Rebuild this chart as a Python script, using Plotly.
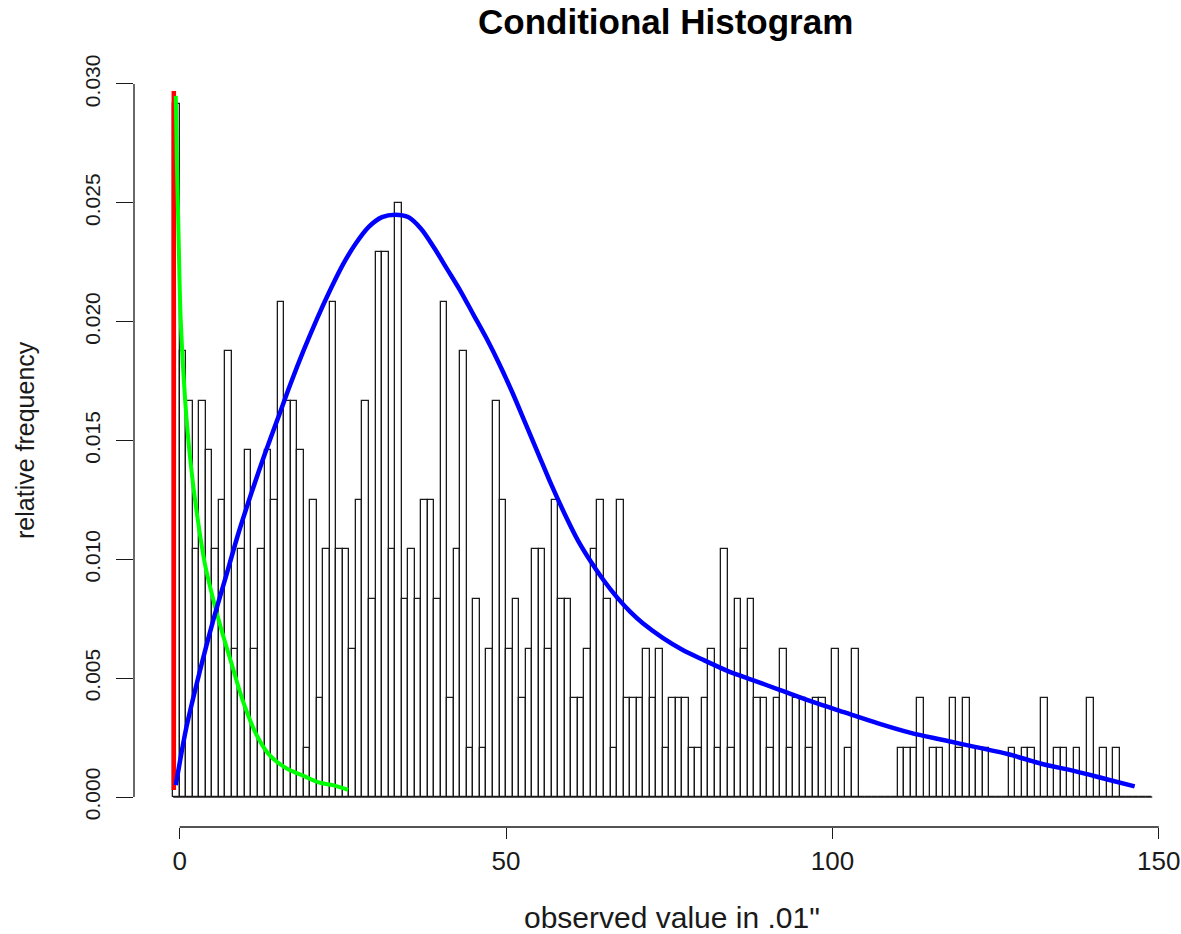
import plotly.graph_objects as go

# ---- data ----
# histogram bins: left edges -1 .. 148 (width 1), counts per bin
bin_left = list(range(-1, 149))
counts = [14, 9, 8, 5, 8, 7, 5, 6, 9, 3,
          5, 7, 3, 5, 7, 6, 10, 8, 8, 7,
          1, 6, 2, 5, 10, 5, 5, 3, 6, 8,
          4, 11, 11, 5, 12, 4, 5, 4, 6, 6,
          4, 10, 2, 5, 9, 1, 4, 1, 3, 8,
          6, 3, 4, 2, 3, 5, 5, 3, 6, 4,
          4, 2, 2, 3, 5, 6, 4, 1, 6, 2,
          2, 2, 3, 2, 3, 1, 2, 2, 2, 1,
          1, 2, 3, 1, 5, 1, 4, 3, 4, 2,
          2, 1, 2, 3, 1, 2, 2, 1, 2, 2,
          0, 3, 0, 1, 3, 0, 0, 0, 0, 0,
          0, 1, 1, 1, 2, 0, 1, 1, 0, 2,
          1, 2, 1, 1, 1, 0, 0, 0, 1, 0,
          1, 1, 0, 2, 0, 1, 1, 0, 1, 0,
          2, 0, 1, 0, 1, 0, 0, 0, 0, 0]
n_total = sum(counts)
rel_freq = [c / n_total for c in counts]

# fitted curves
blue_x = [-0.6, 1, 3, 5, 7, 9, 11, 13, 15, 17, 19, 21, 23, 25, 27, 29, 31, 33,
          35, 37, 39, 41, 43, 45, 47, 49, 51, 53, 55, 57, 59, 61, 63, 65, 67, 69,
          71, 74, 77, 80, 84, 88, 92, 97, 102, 107, 112, 117, 122, 127, 132, 137,
          142, 146.3]
blue_y = [0.0005, 0.0029, 0.0052, 0.0073, 0.0092, 0.0111, 0.0128, 0.0144, 0.0159,
          0.0174, 0.0188, 0.0201, 0.0213, 0.0224, 0.0233, 0.0240, 0.0244, 0.0245,
          0.0244, 0.0239, 0.0231, 0.0222, 0.0213, 0.0203, 0.0193, 0.0182, 0.0170,
          0.0157, 0.0144, 0.0131, 0.0119, 0.0108, 0.0099, 0.0091, 0.0084, 0.0078,
          0.0073, 0.0067, 0.0062, 0.0058, 0.0053, 0.0049, 0.0045, 0.0040, 0.00355,
          0.0031, 0.0027, 0.0024, 0.0021, 0.0018, 0.0014, 0.0011, 0.00075, 0.00045]

green_x = [-0.6, -0.45, -0.21, 0.15, 0.81, 1.58, 2.6, 3.87, 5.15, 6.43, 7.96,
           9.74, 11.8, 13.8, 16.4, 18.9, 21.5, 23.5, 25.8]
green_y = [0.0295, 0.0270, 0.0241, 0.0201, 0.0168, 0.0143, 0.0120, 0.0098, 0.0083,
           0.0070, 0.0056, 0.0040, 0.0026, 0.00175, 0.0012, 0.0009, 0.0006, 0.0005,
           0.0003]

red_x = [-0.9, -0.9]
red_y = [0.0003, 0.0297]

x_ticks = [0, 50, 100, 150]
y_ticks = [0.0, 0.005, 0.010, 0.015, 0.020, 0.025, 0.030]
y_ticktext = ["0.000", "0.005", "0.010", "0.015", "0.020", "0.025", "0.030"]

title_text = "Conditional Histogram"
x_title = "observed value in .01\""
y_title = "relative frequency"

# ---- figure ----
FONT = "Liberation Sans, Arial, sans-serif"
W, H = 1181, 934
ML, MR, MT, MB = 134, 0, 50, 107
PW, PH = W - ML - MR, H - MT - MB

fig = go.Figure()
fig.add_trace(go.Bar(
    x=[b + 0.5 for b in bin_left], y=rel_freq, width=1,
    marker=dict(color="white", line=dict(color="#1a1a1a", width=1.3)),
    hoverinfo="skip", showlegend=False))
fig.add_trace(go.Scatter(x=red_x, y=red_y, mode="lines",
                         line=dict(color="#ff0000", width=4.5), showlegend=False))
fig.add_trace(go.Scatter(x=green_x, y=green_y, mode="lines",
                         line=dict(color="#00ff00", width=4, shape="spline",
                                   smoothing=0.8),
                         showlegend=False))
fig.add_trace(go.Scatter(x=blue_x, y=blue_y, mode="lines",
                         line=dict(color="#0000ff", width=4.5, shape="spline",
                                   smoothing=0.8),
                         showlegend=False))

shapes = [
    # x axis line (R style, between first and last tick)
    dict(type="line", xref="x", yref="paper", x0=x_ticks[0], x1=x_ticks[-1],
         y0=0, y1=0, line=dict(color="#1a1a1a", width=1.3)),
    # y axis line
    dict(type="line", xref="paper", yref="y", x0=0, x1=0,
         y0=y_ticks[0], y1=y_ticks[-1], line=dict(color="#1a1a1a", width=1.3)),
    # histogram baseline (zero-height bins)
    dict(type="line", xref="x", yref="y", x0=bin_left[0], x1=bin_left[-1] + 1,
         y0=0, y1=0, line=dict(color="#1a1a1a", width=1.3)),
]


def px_to_paper_x(px):
    return (px - ML) / PW


def px_to_paper_y(py):
    return (H - MB - py) / PH


annotations = [
    dict(text="<b>" + title_text + "</b>", xref="paper", yref="paper",
         x=px_to_paper_x(665), y=px_to_paper_y(21), xanchor="center",
         yanchor="middle", showarrow=False,
         font=dict(family=FONT, size=35, color="black")),
    dict(text=x_title, xref="paper", yref="paper",
         x=px_to_paper_x(672), y=px_to_paper_y(918), xanchor="center",
         yanchor="middle", showarrow=False,
         font=dict(family=FONT, size=30, color="#1a1a1a")),
    dict(text=y_title, xref="paper", yref="paper",
         x=px_to_paper_x(25), y=px_to_paper_y(440), xanchor="center",
         yanchor="middle", showarrow=False, textangle=-90,
         font=dict(family=FONT, size=25, color="#1a1a1a")),
]

fig.update_layout(
    width=W, height=H,
    margin=dict(l=ML, r=MR, t=MT, b=MB, pad=0),
    paper_bgcolor="white", plot_bgcolor="white",
    bargap=0, showlegend=False,
    shapes=shapes, annotations=annotations,
    font=dict(family=FONT, color="#1a1a1a"),
    xaxis=dict(range=[-7.0, 153.4], tickmode="array", tickvals=x_ticks,
               ticktext=[str(t) for t in x_ticks],
               ticks="outside", ticklen=11, tickwidth=1.3, tickcolor="#1a1a1a",
               showline=False, showgrid=False, zeroline=False,
               tickfont=dict(family=FONT, size=26, color="#1a1a1a"),
               ticklabelstandoff=0),
    yaxis=dict(range=[-0.00126, 0.03143], tickmode="array", tickvals=y_ticks,
               ticktext=y_ticktext, tickangle=-90,
               ticks="outside", ticklen=17, tickwidth=1.3, tickcolor="#1a1a1a",
               showline=False, showgrid=False, zeroline=False,
               tickfont=dict(family=FONT, size=21, color="#1a1a1a"),
               ticklabelstandoff=8),
)

fig.write_html("out.html")
